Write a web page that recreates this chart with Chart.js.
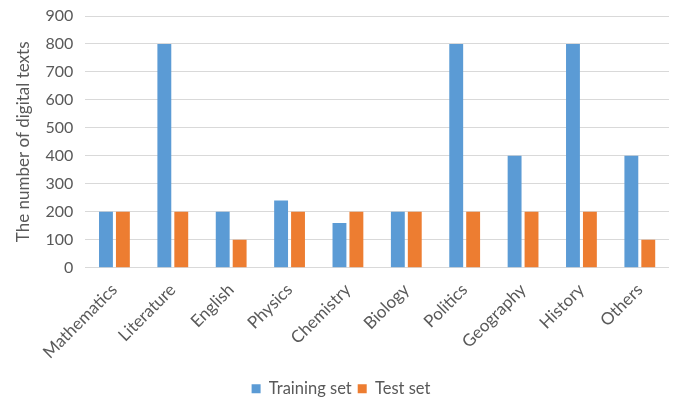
<!DOCTYPE html>
<html>
<head>
<meta charset="utf-8">
<script src="https://cdn.jsdelivr.net/npm/chart.js@4"></script>
<style>
  html, body { margin: 0; padding: 0; background: #fff; }
  #wrap { width: 675px; height: 397px; }
</style>
</head>
<body>
<div id="wrap"><canvas id="c" width="675" height="397"></canvas></div>
<script>
const subjects = ["Mathematics", "Literature", "English", "Physics", "Chemistry", "Biology", "Politics", "Geography", "History", "Others"];
const trainingSet = [200, 800, 200, 240, 160, 200, 800, 400, 800, 400];
const testSet = [200, 200, 100, 200, 200, 200, 200, 200, 200, 100];
const yTicks = [0, 100, 200, 300, 400, 500, 600, 700, 800, 900];

const fontFamily = "Lato, 'Open Sans', sans-serif";
const textColor = "#595959";

new Chart(document.getElementById("c"), {
  type: "bar",
  data: {
    labels: subjects,
    datasets: [
      { label: "Training set", data: trainingSet, backgroundColor: "#5B9BD5" },
      { label: "Test set", data: testSet, backgroundColor: "#ED7D31" }
    ]
  },
  options: {
    responsive: false,
    animation: false,
    layout: { padding: { left: 13, right: 6, top: 16, bottom: -10 } },
    datasets: { bar: { categoryPercentage: 0.58, barPercentage: 0.82 } },
    plugins: {
      legend: {
        position: "bottom",
        labels: {
          color: textColor,
          font: { family: fontFamily, size: 16.5 },
          boxWidth: 9,
          boxHeight: 9,
          padding: 6
        }
      },
      tooltip: { enabled: false }
    },
    scales: {
      x: {
        grid: { display: false },
        border: { display: false },
        afterFit: scale => { scale.height += 8; },
        ticks: {
          color: textColor,
          font: { family: fontFamily, size: 17 },
          minRotation: 45,
          maxRotation: 45,
          padding: 4
        }
      },
      y: {
        min: 0,
        max: 900,
        afterBuildTicks: axis => { axis.ticks = yTicks.map(v => ({ value: v })); },
        afterFit: scale => { scale.paddingTop = 0; },
        grid: { color: "#d9d9d9", lineWidth: 1, drawTicks: false },
        border: { display: false },
        ticks: {
          color: textColor,
          font: { family: fontFamily, size: 16 },
          padding: 12
        },
        title: {
          display: true,
          text: "The number of digital texts",
          color: textColor,
          font: { family: fontFamily, size: 17 },
          padding: { top: 0, bottom: 0 }
        }
      }
    }
  }
});
</script>
</body>
</html>
